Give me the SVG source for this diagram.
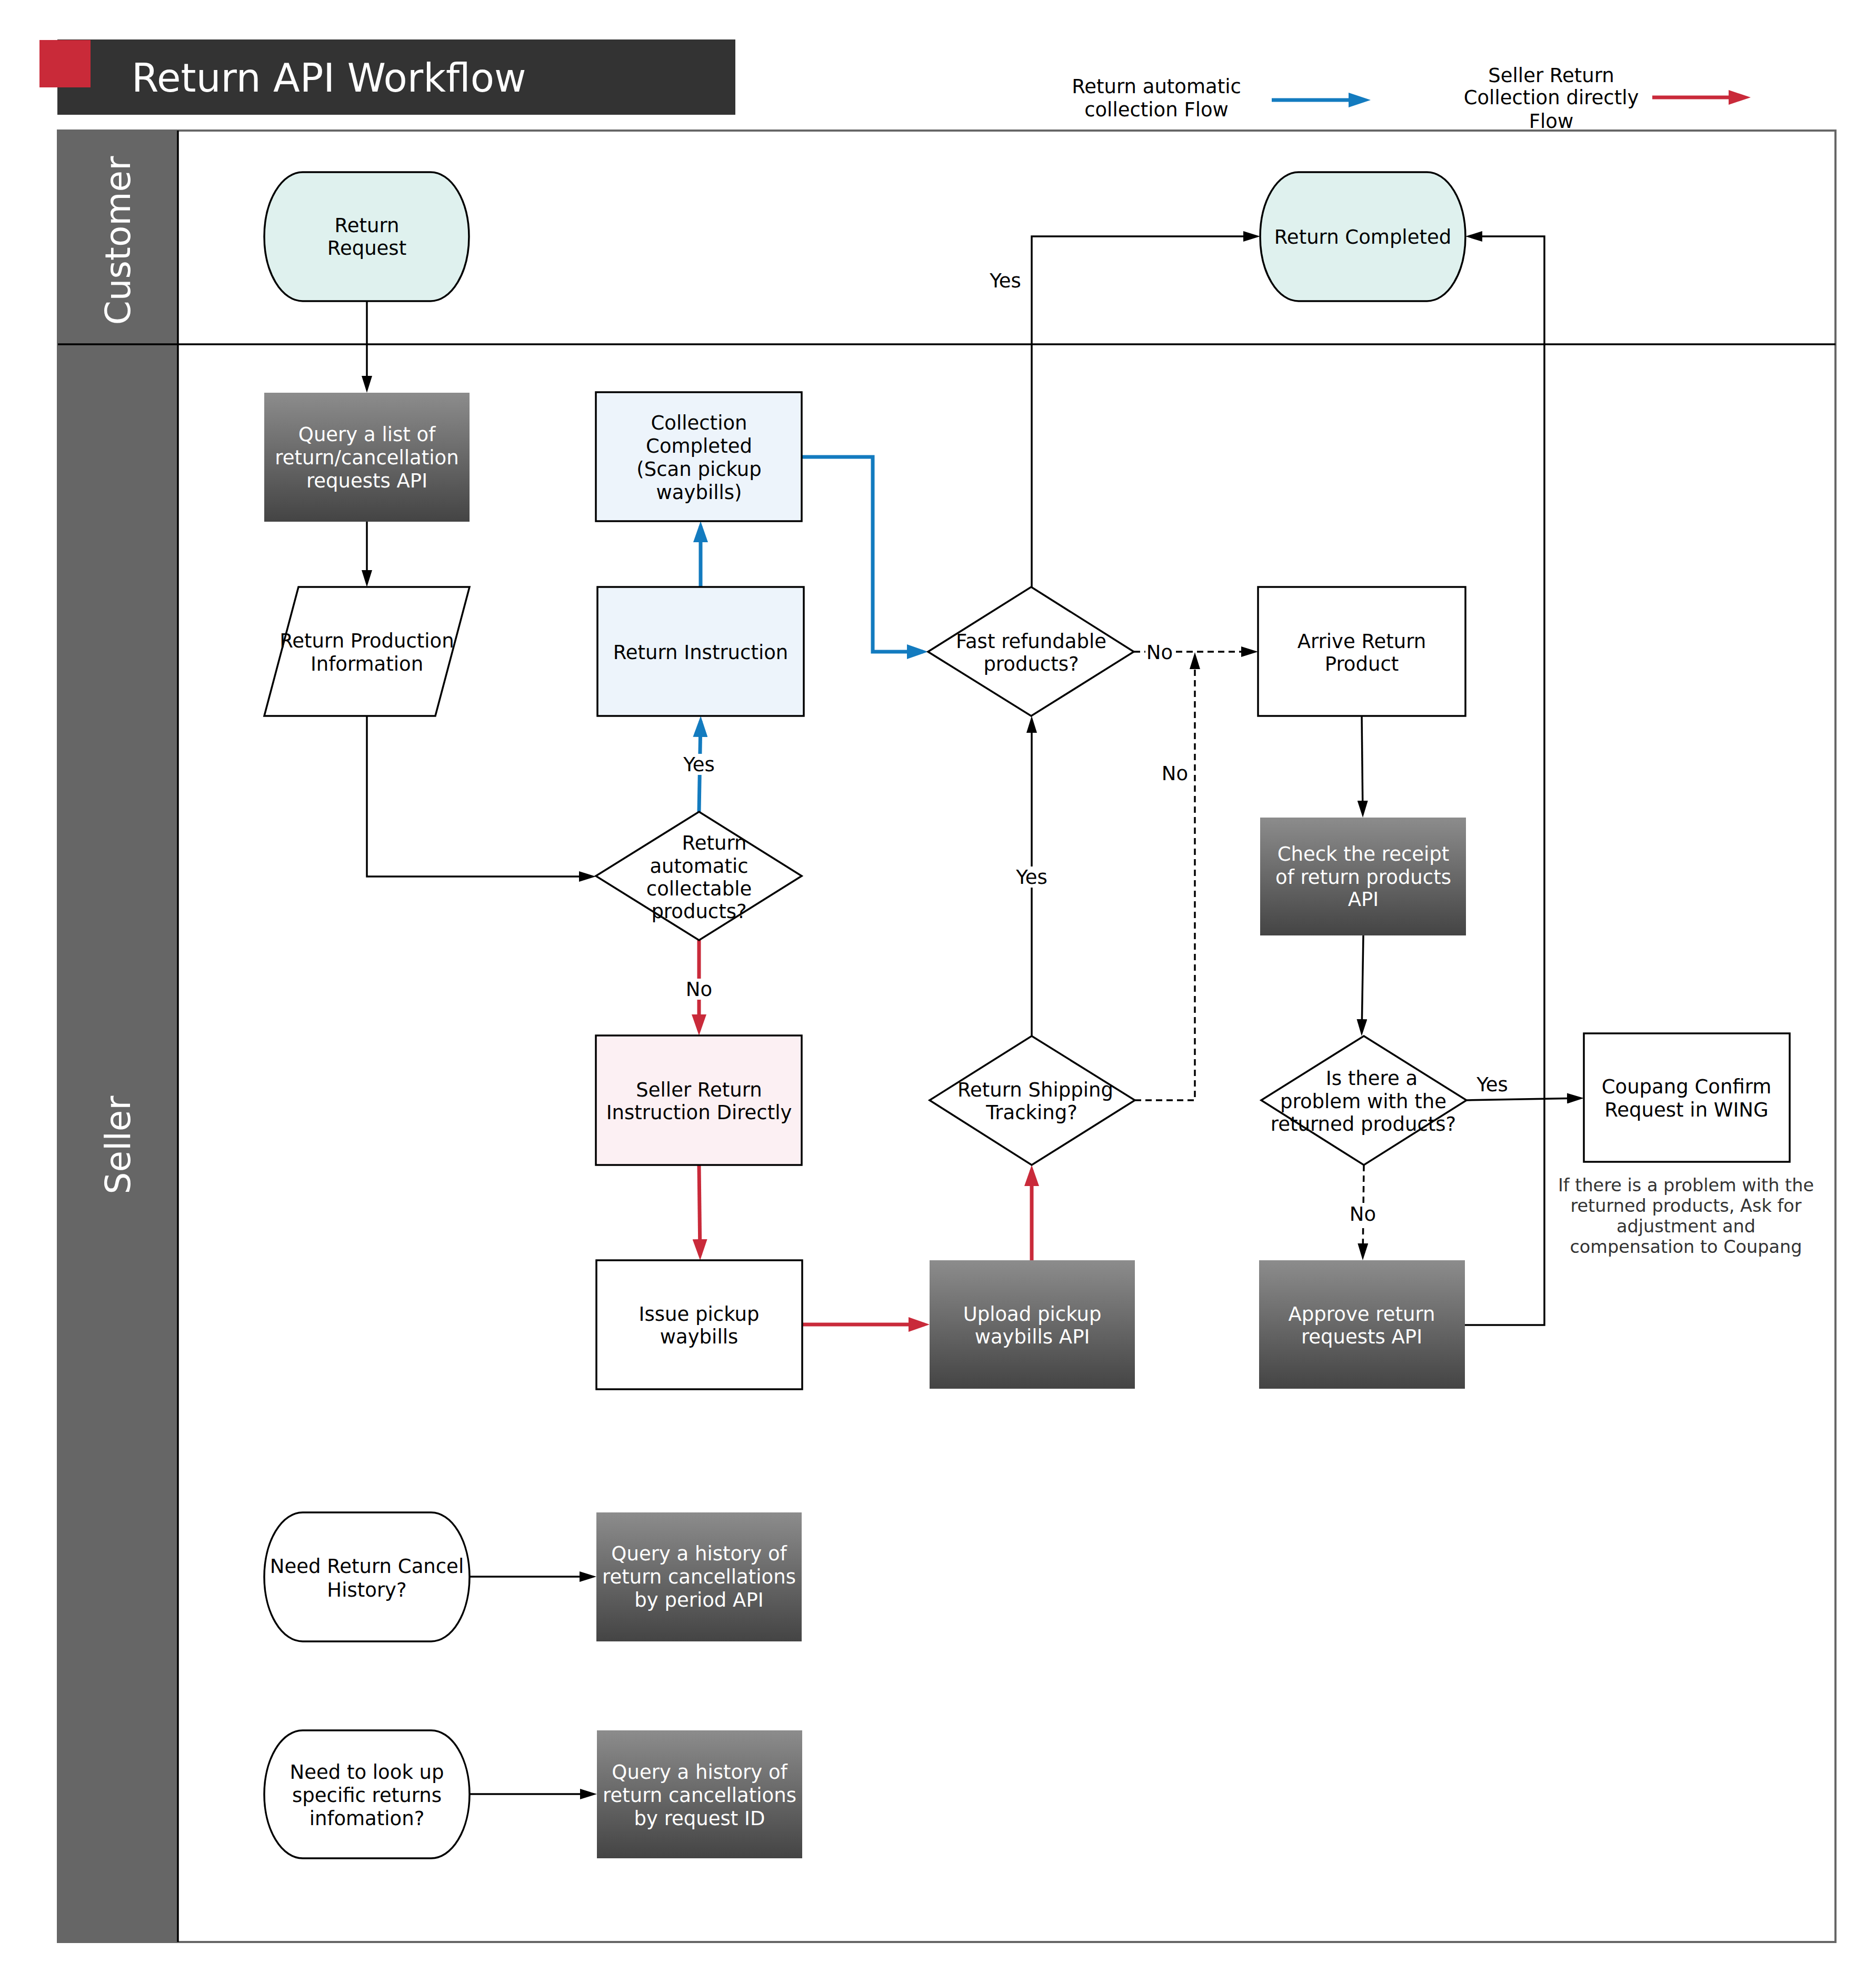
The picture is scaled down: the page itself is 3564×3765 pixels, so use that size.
<svg xmlns="http://www.w3.org/2000/svg" width="3564" height="3765" viewBox="0 0 3564 3765">
<style>
text{font-family:"DejaVu Sans","Liberation Sans",sans-serif;font-size:37px;fill:#000;text-anchor:middle}
.w{fill:#fff}
.shape{stroke:#000;stroke-width:3.5}
.api{fill:url(#gApi)}
.c{fill:none;stroke:#000;stroke-width:3.5}
.dash{stroke-dasharray:12 8}
.blue{fill:none;stroke:#137bbf;stroke-width:7}
.red{fill:none;stroke:#c92a3a;stroke-width:7}
.lbl{fill:#fff}
.note{font-size:33.5px;fill:#333}
</style>
<defs>
<linearGradient id="gApi" x1="0" y1="0" x2="0" y2="1">
<stop offset="0" stop-color="#8c8c8c"/>
<stop offset="1" stop-color="#444444"/>
</linearGradient>
<marker id="aK" markerUnits="userSpaceOnUse" markerWidth="32" markerHeight="20" refX="26" refY="10" orient="auto"><path d="M0,0 L32,10 L0,20 Z" fill="#000"/></marker>
<marker id="aB" markerUnits="userSpaceOnUse" markerWidth="40" markerHeight="28" refX="30" refY="14" orient="auto"><path d="M0,0 L40,14 L0,28 Z" fill="#137bbf"/></marker>
<marker id="aR" markerUnits="userSpaceOnUse" markerWidth="40" markerHeight="28" refX="30" refY="14" orient="auto"><path d="M0,0 L40,14 L0,28 Z" fill="#c92a3a"/></marker>
</defs>
<rect width="3564" height="3765" fill="#fff"/>

<g id="title">
<rect x="109" y="75" width="1288" height="143" fill="#333333"/>
<rect x="75" y="76" width="97" height="90" fill="#c92a39"/>
<text x="250" y="174" class="w" style="font-size:74px;text-anchor:start">Return API Workflow</text>
</g>

<g id="legend">
<text x="2197" y="177">Return automatic</text>
<text x="2197" y="221">collection Flow</text>
<line x1="2416" y1="190" x2="2568" y2="190" stroke="#137bbf" stroke-width="7"/>
<polygon points="2562,176 2604,190 2562,204" fill="#137bbf"/>
<text x="2947" y="156">Seller Return</text>
<text x="2947" y="198">Collection directly</text>
<text x="2947" y="243">Flow</text>
<line x1="3139" y1="185" x2="3290" y2="185" stroke="#c92a3a" stroke-width="7"/>
<polygon points="3284,171 3326,185 3284,199" fill="#c92a3a"/>
</g>

<g id="lanes">
<rect x="110" y="248" width="3377" height="3441" fill="#fff" stroke="#666" stroke-width="4"/>
<rect x="108" y="248" width="230" height="3441" fill="#666666"/>
<line x1="110" y1="654" x2="3487" y2="654" stroke="#000" stroke-width="3.5"/>
<line x1="338" y1="248" x2="338" y2="3689" stroke="#000" stroke-width="3.5"/>
<text class="w" style="font-size:66px" transform="translate(247,457) rotate(-90)">Customer</text>
<text class="w" style="font-size:66px" transform="translate(247,2175) rotate(-90)">Seller</text>
</g>

<g id="connectors">
<path class="c" d="M697,572 V740" marker-end="url(#aK)"/>
<path class="c" d="M697,991 V1109" marker-end="url(#aK)"/>
<path class="c" d="M697,1360 V1665 H1126" marker-end="url(#aK)"/>
<path class="blue" d="M1328,1542 L1331,1370" marker-end="url(#aB)"/>
<path class="blue" d="M1331,1115 V1000" marker-end="url(#aB)"/>
<path class="blue" d="M1523,868 H1658 V1238 H1753" marker-end="url(#aB)"/>
<path class="red" d="M1328,1786 V1957" marker-end="url(#aR)"/>
<path class="red" d="M1328,2213 L1330,2384" marker-end="url(#aR)"/>
<path class="red" d="M1524,2516 H1756" marker-end="url(#aR)"/>
<path class="red" d="M1960,2394 V2223" marker-end="url(#aR)"/>
<path class="c" d="M1960,1968 V1366" marker-end="url(#aK)"/>
<path class="c dash" d="M2156,2090 H2270 V1245" marker-end="url(#aK)"/>
<path class="c dash" d="M2154,1238 H2384" marker-end="url(#aK)"/>
<path class="c" d="M1960,1115 V449 H2388" marker-end="url(#aK)"/>
<path class="c" d="M2587,1360 L2589,1547" marker-end="url(#aK)"/>
<path class="c" d="M2590,1777 L2587,1962" marker-end="url(#aK)"/>
<path class="c" d="M2786,2090 L3003,2086" marker-end="url(#aK)"/>
<path class="c dash" d="M2591,2213 L2589,2388" marker-end="url(#aK)"/>
<path class="c" d="M2783,2517 H2934 V449 H2790" marker-end="url(#aK)"/>
<path class="c" d="M892,2995 H1127" marker-end="url(#aK)"/>
<path class="c" d="M892,3408 H1128" marker-end="url(#aK)"/>
<rect class="lbl" x="1295" y="1432" width="66" height="40"/>
<text x="1328" y="1465">Yes</text>
<rect class="lbl" x="1299" y="1859" width="58" height="40"/>
<text x="1328" y="1892">No</text>
<rect class="lbl" x="1927" y="1646" width="66" height="40"/>
<text x="1960" y="1679">Yes</text>
<rect class="lbl" x="2176" y="1219" width="54" height="40"/>
<text x="2203" y="1252">No</text>
<rect class="lbl" x="2560" y="2286" width="58" height="40"/>
<text x="2589" y="2319">No</text>
<text x="2232" y="1482">No</text>
<text x="1910" y="546">Yes</text>
<text x="2835" y="2073">Yes</text>
</g>

<g id="n-return-request">
<path class="shape" fill="#dff1ee" d="M575,327 H818 A73,122.5 0 0 1 818,572 H575 A73,122.5 0 0 1 575,327 Z"/>
<text x="697" y="441">Return</text>
<text x="697" y="484">Request</text>
</g>

<g id="n-return-completed">
<path class="shape" fill="#dff1ee" d="M2467,327 H2711 A73,122.5 0 0 1 2711,572 H2467 A73,122.5 0 0 1 2467,327 Z"/>
<text x="2589" y="463">Return Completed</text>
</g>

<g id="n-query-list">
<rect class="api" x="502" y="746" width="390" height="245"/>
<text class="w" x="697" y="838">Query a list of</text>
<text class="w" x="697" y="882">return/cancellation</text>
<text class="w" x="697" y="926">requests API</text>
</g>

<g id="n-return-production">
<polygon class="shape" fill="#fff" points="567,1115 892,1115 827,1360 502,1360"/>
<text x="697" y="1230">Return Production</text>
<text x="697" y="1274">Information</text>
</g>

<g id="n-collection-completed">
<rect class="shape" fill="#edf4fb" x="1132" y="745" width="391" height="245"/>
<text x="1328" y="816">Collection</text>
<text x="1328" y="860">Completed</text>
<text x="1328" y="904">(Scan pickup</text>
<text x="1328" y="948">waybills)</text>
</g>

<g id="n-return-instruction">
<rect class="shape" fill="#edf4fb" x="1135" y="1115" width="392" height="245"/>
<text x="1331" y="1252">Return Instruction</text>
</g>

<g id="n-auto-collectable">
<polygon class="shape" fill="#fff" points="1328,1542 1523,1664 1328,1786 1132,1664"/>
<text x="1357" y="1614">Return</text>
<text x="1328" y="1658">automatic</text>
<text x="1328" y="1701">collectable</text>
<text x="1328" y="1744">products?</text>
</g>

<g id="n-fast-refundable">
<polygon class="shape" fill="#fff" points="1959,1115 2154,1238 1959,1360 1763,1238"/>
<text x="1959" y="1231">Fast refundable</text>
<text x="1959" y="1274">products?</text>
</g>

<g id="n-arrive-return">
<rect class="shape" fill="#fff" x="2390" y="1115" width="394" height="245"/>
<text x="2587" y="1231">Arrive Return</text>
<text x="2587" y="1274">Product</text>
</g>

<g id="n-check-receipt">
<rect class="api" x="2394" y="1553" width="391" height="224"/>
<text class="w" x="2590" y="1635">Check the receipt</text>
<text class="w" x="2590" y="1679">of return products</text>
<text class="w" x="2590" y="1721">API</text>
</g>

<g id="n-seller-return">
<rect class="shape" fill="#fcf0f3" x="1132" y="1967" width="391" height="246"/>
<text x="1328" y="2083">Seller Return</text>
<text x="1328" y="2126">Instruction Directly</text>
</g>

<g id="n-shipping-tracking">
<polygon class="shape" fill="#fff" points="1960,1968 2156,2090 1960,2213 1766,2090"/>
<text x="1967" y="2083">Return Shipping</text>
<text x="1960" y="2126">Tracking?</text>
</g>

<g id="n-problem">
<polygon class="shape" fill="#fff" points="2591,1968 2786,2090 2591,2213 2396,2090"/>
<text x="2606" y="2061">Is there a</text>
<text x="2590" y="2105">problem with the</text>
<text x="2590" y="2148">returned products?</text>
</g>

<g id="n-coupang-confirm">
<rect class="shape" fill="#fff" x="3009" y="1963" width="391" height="244"/>
<text x="3204" y="2077">Coupang Confirm</text>
<text x="3204" y="2121">Request in WING</text>
</g>

<g id="n-note">
<text class="note" x="3203" y="2263">If there is a problem with the</text>
<text class="note" x="3203" y="2302">returned products, Ask for</text>
<text class="note" x="3203" y="2341">adjustment and</text>
<text class="note" x="3203" y="2380">compensation to Coupang</text>
</g>

<g id="n-issue-pickup">
<rect class="shape" fill="#fff" x="1133" y="2394" width="391" height="245"/>
<text x="1328" y="2509">Issue pickup</text>
<text x="1328" y="2552">waybills</text>
</g>

<g id="n-upload-pickup">
<rect class="api" x="1766" y="2394" width="390" height="244"/>
<text class="w" x="1961" y="2509">Upload pickup</text>
<text class="w" x="1961" y="2552">waybills API</text>
</g>

<g id="n-approve">
<rect class="api" x="2392" y="2394" width="391" height="244"/>
<text class="w" x="2587" y="2509">Approve return</text>
<text class="w" x="2587" y="2552">requests API</text>
</g>

<g id="n-need-cancel-history">
<path class="shape" fill="#fff" d="M575,2873 H819 A73,122.5 0 0 1 819,3118 H575 A73,122.5 0 0 1 575,2873 Z"/>
<text x="697" y="2988">Need Return Cancel</text>
<text x="697" y="3033">History?</text>
</g>

<g id="n-history-period">
<rect class="api" x="1133" y="2873" width="390" height="245"/>
<text class="w" x="1328" y="2964">Query a history of</text>
<text class="w" x="1328" y="3008">return cancellations</text>
<text class="w" x="1328" y="3052">by period API</text>
</g>

<g id="n-need-lookup">
<path class="shape" fill="#fff" d="M575,3287 H819 A73,121.5 0 0 1 819,3530 H575 A73,121.5 0 0 1 575,3287 Z"/>
<text x="697" y="3379">Need to look up</text>
<text x="697" y="3423">specific returns</text>
<text x="697" y="3467">infomation?</text>
</g>

<g id="n-history-request-id">
<rect class="api" x="1134" y="3287" width="390" height="243"/>
<text class="w" x="1329" y="3379">Query a history of</text>
<text class="w" x="1329" y="3423">return cancellations</text>
<text class="w" x="1329" y="3467">by request ID</text>
</g>
</svg>
